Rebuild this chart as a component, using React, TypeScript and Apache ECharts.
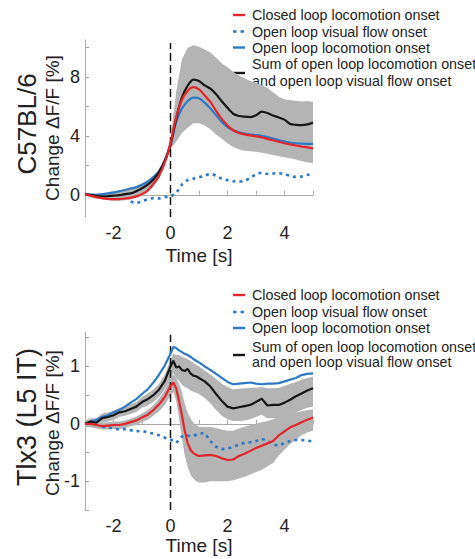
import React, { useEffect, useRef } from "react";
import * as echarts from "echarts";

// ---------- data ----------
const TOP_TIME = [-3, -2.8, -2.6, -2.4, -2.2, -2, -1.8, -1.6, -1.4, -1.2, -1, -0.8, -0.6, -0.4, -0.2, 0, 0.2, 0.4, 0.6, 0.8, 1, 1.2, 1.4, 1.6, 1.8, 2, 2.2, 2.4, 2.6, 2.8, 3, 3.2, 3.4, 3.6, 3.8, 4, 4.2, 4.4, 4.6, 4.8, 5];
const topClosedLoco = [0.05, -0.05, -0.15, -0.22, -0.27, -0.29, -0.29, -0.25, -0.2, -0.1, 0.05, 0.3, 0.75, 1.3, 2.2, 3.5, 5.3, 6.45, 7.05, 7.3, 7.15, 6.75, 6.3, 5.7, 5.15, 4.7, 4.38, 4.2, 4.1, 4.03, 3.97, 3.9, 3.8, 3.7, 3.6, 3.5, 3.42, 3.35, 3.28, 3.22, 3.15];
const topOpenVisual: (number | null)[] = [null, null, null, null, null, null, null, null, -0.45, -0.55, -0.42, -0.3, -0.22, -0.24, -0.15, -0.1, 0.15, 0.7, 1.0, 1.1, 1.2, 1.3, 1.42, 1.3, 1.1, 1.0, 0.92, 0.9, 0.95, 1.15, 1.4, 1.5, 1.42, 1.45, 1.47, 1.4, 1.3, 1.22, 1.25, 1.35, 1.42];
const topOpenLoco = [0.05, 0.02, 0.0, 0.05, 0.1, 0.17, 0.24, 0.33, 0.43, 0.52, 0.68, 0.9, 1.2, 1.6, 2.35, 3.4, 4.95, 5.85, 6.35, 6.6, 6.55, 6.25, 5.85, 5.4, 4.95, 4.6, 4.38, 4.25, 4.15, 4.08, 4.05, 4.0, 3.92, 3.82, 3.72, 3.62, 3.55, 3.5, 3.47, 3.46, 3.46];
const topSum = [0.05, -0.02, -0.08, -0.1, -0.08, -0.05, -0.02, 0.05, 0.1, 0.25, 0.45, 0.7, 1.05, 1.55, 2.3, 3.4, 5.2, 6.6, 7.4, 7.82, 7.72, 7.42, 7.2, 6.82, 6.35, 5.9, 5.5, 5.35, 5.3, 5.27, 5.4, 5.65, 5.55, 5.38, 5.25, 5.1, 4.8, 4.75, 4.73, 4.78, 4.9];
const topBandUpper = [0.15, 0.1, 0.08, 0.1, 0.15, 0.22, 0.3, 0.4, 0.5, 0.6, 0.78, 1.0, 1.32, 1.75, 2.5, 3.8, 7.0, 9.2, 9.95, 10.15, 10.05, 9.85, 9.65, 9.3, 8.9, 8.65, 8.35, 8.1, 7.9, 7.72, 7.58, 7.45, 7.25, 6.95, 6.65, 6.48, 6.42, 6.38, 6.33, 6.36, 6.3];
const topBandLower = [-0.08, -0.15, -0.25, -0.32, -0.37, -0.4, -0.4, -0.37, -0.32, -0.22, -0.08, 0.15, 0.55, 1.1, 1.95, 3.1, 3.6, 4.2, 4.55, 4.85, 4.85, 4.7, 4.45, 4.1, 3.8, 3.5, 3.25, 3.1, 3.0, 2.95, 2.92, 2.85, 2.78, 2.7, 2.62, 2.55, 2.48, 2.4, 2.3, 2.22, 2.15];

const BOT_TIME = [-3, -2.8, -2.6, -2.4, -2.2, -2, -1.8, -1.6, -1.4, -1.2, -1, -0.8, -0.6, -0.4, -0.2, 0, 0.1, 0.2, 0.3, 0.4, 0.5, 0.6, 0.7, 0.8, 0.9, 1, 1.2, 1.4, 1.6, 1.8, 2, 2.2, 2.4, 2.6, 2.8, 3, 3.2, 3.4, 3.6, 3.8, 4, 4.2, 4.4, 4.6, 4.8, 5];
const botClosedLoco = [0.0, 0.0, -0.02, -0.04, -0.03, -0.02, -0.02, 0.0, 0.03, 0.06, 0.11, 0.16, 0.24, 0.34, 0.47, 0.66, 0.72, 0.62, 0.4, 0.15, -0.12, -0.33, -0.45, -0.51, -0.54, -0.56, -0.55, -0.54, -0.56, -0.6, -0.63, -0.62, -0.56, -0.52, -0.47, -0.42, -0.38, -0.34, -0.3, -0.2, -0.13, -0.06, -0.02, 0.03, 0.07, 0.11];
const botOpenVisual: (number | null)[] = [null, null, null, -0.05, -0.06, -0.08, -0.1, -0.09, -0.11, -0.13, -0.12, -0.15, -0.17, -0.2, -0.24, -0.27, -0.3, -0.33, -0.28, -0.22, -0.2, -0.2, -0.22, -0.21, -0.19, -0.17, -0.16, -0.3, -0.4, -0.44, -0.43, -0.4, -0.36, -0.33, -0.32, -0.3, -0.26, -0.3, -0.36, -0.38, -0.33, -0.3, -0.28, -0.28, -0.29, -0.31];
const botOpenLoco = [0.0, 0.04, 0.07, 0.12, 0.15, 0.2, 0.24, 0.3, 0.37, 0.43, 0.52, 0.6, 0.72, 0.86, 1.02, 1.22, 1.34, 1.32, 1.28, 1.25, 1.22, 1.2, 1.17, 1.13, 1.1, 1.07, 1.0, 0.94, 0.87, 0.8, 0.73, 0.69, 0.7, 0.71, 0.72, 0.7, 0.69, 0.7, 0.7, 0.71, 0.74, 0.77, 0.8, 0.85, 0.87, 0.88];
const botSum = [0.0, 0.04, 0.02, 0.1, 0.12, 0.15, 0.2, 0.22, 0.26, 0.3, 0.38, 0.43, 0.5, 0.6, 0.75, 1.0, 1.1, 0.98, 1.0, 0.94, 0.92, 0.96, 0.88, 0.84, 0.83, 0.8, 0.74, 0.65, 0.52, 0.4, 0.3, 0.27, 0.29, 0.31, 0.33, 0.38, 0.44, 0.32, 0.33, 0.33, 0.37, 0.42, 0.48, 0.53, 0.58, 0.62];
const botSumUpper = [0.06, 0.1, 0.1, 0.18, 0.2, 0.23, 0.28, 0.3, 0.34, 0.38, 0.47, 0.53, 0.6, 0.7, 0.86, 1.12, 1.22, 1.2, 1.2, 1.17, 1.15, 1.13, 1.1, 1.06, 1.03, 1.0, 0.93, 0.86, 0.78, 0.7, 0.64, 0.6, 0.61, 0.62, 0.63, 0.63, 0.64, 0.62, 0.62, 0.63, 0.66, 0.7, 0.73, 0.77, 0.8, 0.82];
const botSumLower = [-0.06, -0.03, -0.05, 0.02, 0.04, 0.07, 0.12, 0.14, 0.17, 0.21, 0.28, 0.32, 0.38, 0.47, 0.6, 0.78, 0.88, 0.8, 0.75, 0.68, 0.64, 0.62, 0.58, 0.56, 0.54, 0.52, 0.45, 0.36, 0.24, 0.14, 0.08, 0.05, 0.05, 0.06, 0.08, 0.12, 0.16, 0.1, 0.1, 0.1, 0.12, 0.16, 0.2, 0.24, 0.28, 0.3];
const botClosedUpper = [0.05, 0.05, 0.04, 0.02, 0.03, 0.04, 0.04, 0.06, 0.09, 0.13, 0.18, 0.24, 0.33, 0.44, 0.58, 0.8, 0.86, 0.8, 0.7, 0.55, 0.35, 0.2, 0.1, 0.02, -0.02, -0.05, -0.06, -0.05, -0.07, -0.1, -0.12, -0.12, -0.08, -0.05, -0.02, 0.0, 0.03, 0.05, 0.08, 0.12, 0.15, 0.18, 0.2, 0.22, 0.24, 0.25];
const botClosedLower = [-0.05, -0.06, -0.08, -0.1, -0.1, -0.09, -0.09, -0.07, -0.04, -0.02, 0.03, 0.07, 0.14, 0.22, 0.33, 0.5, 0.55, 0.4, 0.1, -0.25, -0.55, -0.75, -0.88, -0.95, -1.0, -1.02, -1.02, -1.0, -1.0, -1.0, -1.0, -0.98, -0.95, -0.92, -0.88, -0.84, -0.8, -0.74, -0.68, -0.55, -0.45, -0.35, -0.28, -0.2, -0.15, -0.12];

const X_TICKS = [-3, -2, -1, 0, 1, 2, 3, 4, 5];
const X_LABELS = [-2, 0, 2, 4];
const TOP_Y_TICKS = [0, 2, 4, 6, 8, 10];
const TOP_Y_LABELS = [0, 4, 8];
const BOT_Y_TICKS = [-1.5, -1, -0.5, 0, 0.5, 1, 1.5];
const BOT_Y_LABELS = [-1, 0, 1];

const LEGEND_LABELS = [
  "Closed loop locomotion onset",
  "Open loop visual flow onset",
  "Open loop locomotion onset",
  "Sum of open loop locomotion onset",
  "and open loop visual flow onset",
];
const PANEL_TITLES = ["C57BL/6", "Tlx3 (L5 IT)"];
const Y_NAME = "Change \u0394F/F [%]";
const X_NAME = "Time [s]";

// ---------- styles ----------
const FONT = '"Liberation Sans", Arial, Helvetica, sans-serif';
const RED = "#e3242b";
const BLUE = "#2f78c4";
const BLACK = "#161616";
const GRAY = "#b4b4b4";
const AXIS = "#a8a8a8";
const TEXT = "#222222";

function pairs(t: number[], v: (number | null)[]) {
  const out: number[][] = [];
  t.forEach((x, i) => {
    const y = v[i];
    if (y !== null && y !== undefined) out.push([x, y]);
  });
  return out;
}

function band(t: number[], up: number[], lo: number[], idx: number) {
  return {
    type: "custom",
    xAxisIndex: idx,
    yAxisIndex: idx,
    silent: true,
    z: 1,
    data: [[t[0], up[0]]],
    renderItem: (params: any, api: any) => {
      const pts: number[][] = [];
      for (let i = 0; i < t.length; i++) pts.push(api.coord([t[i], up[i]]));
      for (let i = t.length - 1; i >= 0; i--) pts.push(api.coord([t[i], lo[i]]));
      return { type: "polygon", shape: { points: pts }, style: { fill: GRAY } };
    },
  };
}

function line(t: number[], v: (number | null)[], idx: number, color: string, opts: any = {}) {
  return {
    type: "line",
    xAxisIndex: idx,
    yAxisIndex: idx,
    data: pairs(t, v),
    symbol: "none",
    z: opts.z ?? 3,
    smooth: opts.smooth ?? false,
    lineStyle: { color, width: opts.width ?? 2.2, type: opts.dash ?? "solid" },
  };
}

function xAxis(idx: number) {
  return {
    gridIndex: idx,
    type: "value",
    min: -3,
    max: 5,
    axisLine: { show: true, lineStyle: { color: AXIS, width: 1 } },
    axisTick: { show: true, inside: true, length: 4, customValues: X_TICKS, lineStyle: { color: AXIS } },
    axisLabel: { customValues: X_LABELS, color: TEXT, fontSize: 18, fontFamily: FONT, margin: 7 },
    splitLine: { show: false },
  };
}

function yAxis(idx: number, min: number, max: number, ticks: number[], labels: number[]) {
  return {
    gridIndex: idx,
    type: "value",
    min,
    max,
    axisLine: { show: true, onZero: false, lineStyle: { color: AXIS, width: 1 } },
    axisTick: { show: true, inside: true, length: 4, customValues: ticks, lineStyle: { color: AXIS } },
    axisLabel: { customValues: labels, color: TEXT, fontSize: 18, fontFamily: FONT, margin: 5 },
    splitLine: { show: false },
  };
}

function legendGraphics(top: number, rows: number[], iconYs: number[]) {
  const els: any[] = [];
  const x1 = 233;
  const x2 = 245;
  const icons = [
    { color: RED, dash: null },
    { color: BLUE, dash: [3.5, 4] },
    { color: BLUE, dash: null },
    { color: BLACK, dash: null },
  ];
  icons.forEach((ic, i) => {
    els.push({
      type: "line",
      shape: { x1, y1: top + iconYs[i], x2, y2: top + iconYs[i] },
      style: { stroke: ic.color, lineWidth: 2.4, lineDash: ic.dash || undefined },
    });
  });
  LEGEND_LABELS.forEach((txt, i) => {
    els.push({
      type: "text",
      x: 252,
      y: top + rows[i],
      style: { text: txt, fill: TEXT, font: `14.3px ${FONT}`, textAlign: "left", textVerticalAlign: "middle" },
    });
  });
  return els;
}

function rotText(text: string, x: number, y: number, size: number) {
  return {
    type: "text",
    x,
    y,
    rotation: Math.PI / 2,
    style: { text, fill: TEXT, font: `${size}px ${FONT}`, textAlign: "center", textVerticalAlign: "middle" },
  };
}

function hText(text: string, x: number, y: number, size: number) {
  return {
    type: "text",
    x,
    y,
    style: { text, fill: TEXT, font: `${size}px ${FONT}`, textAlign: "center", textVerticalAlign: "middle" },
  };
}

export default function App() {
  const ref = useRef<HTMLDivElement>(null);
  useEffect(() => {
    if (!ref.current) return;
    const chart = echarts.init(ref.current, undefined, { renderer: "svg" });
    const option: any = {
      animation: false,
      backgroundColor: "#ffffff",
      grid: [
        { left: 85, top: 40, width: 228, height: 177 },
        { left: 85, top: 332, width: 228, height: 178 },
      ],
      xAxis: [xAxis(0), xAxis(1)],
      yAxis: [
        yAxis(0, -1.5, 10.5, TOP_Y_TICKS, TOP_Y_LABELS),
        yAxis(1, -1.5, 1.6, BOT_Y_TICKS, BOT_Y_LABELS),
      ],
      series: [
        band(TOP_TIME, topBandUpper, topBandLower, 0),
        { ...line([0, 0], [-1.5, 10.3], 0, BLACK, { width: 1.5, dash: [8, 4], z: 2 }) },
        line(TOP_TIME, topOpenVisual, 0, BLUE, { width: 2.6, dash: [3, 4], smooth: 0.3 }),
        line(TOP_TIME, topOpenLoco, 0, BLUE, { smooth: 0.3 }),
        line(TOP_TIME, topSum, 0, BLACK, { smooth: 0.2 }),
        line(TOP_TIME, topClosedLoco, 0, RED, { smooth: 0.3 }),

        band(BOT_TIME, botClosedUpper, botClosedLower, 1),
        band(BOT_TIME, botSumUpper, botSumLower, 1),
        { ...line([0, 0], [-1.5, 1.55], 1, BLACK, { width: 1.5, dash: [8, 4], z: 2 }) },
        line(BOT_TIME, botOpenVisual, 1, BLUE, { width: 2.6, dash: [3, 4] }),
        line(BOT_TIME, botOpenLoco, 1, BLUE, {}),
        line(BOT_TIME, botSum, 1, BLACK, {}),
        line(BOT_TIME, botClosedLoco, 1, RED, {}),
      ],
      graphic: [
        ...legendGraphics(0, [15, 31.5, 47.5, 64, 80.5], [15, 31.5, 47.5, 73]),
        ...legendGraphics(280, [15, 32, 48, 66.5, 82], [15, 32, 48, 75]),
        rotText(PANEL_TITLES[0], 27, 124, 26),
        rotText(Y_NAME, 52, 128, 19),
        hText(X_NAME, 199, 255, 19),
        rotText(PANEL_TITLES[1], 27, 417, 27),
        rotText(Y_NAME, 52, 423, 19),
        hText(X_NAME, 199, 545, 19),
      ],
    };
    chart.setOption(option);
    return () => chart.dispose();
  }, []);
  return (
    <div
      ref={ref}
      style={{ position: "absolute", left: 0, top: 0, width: 475, height: 559, background: "#fff" }}
    />
  );
}
